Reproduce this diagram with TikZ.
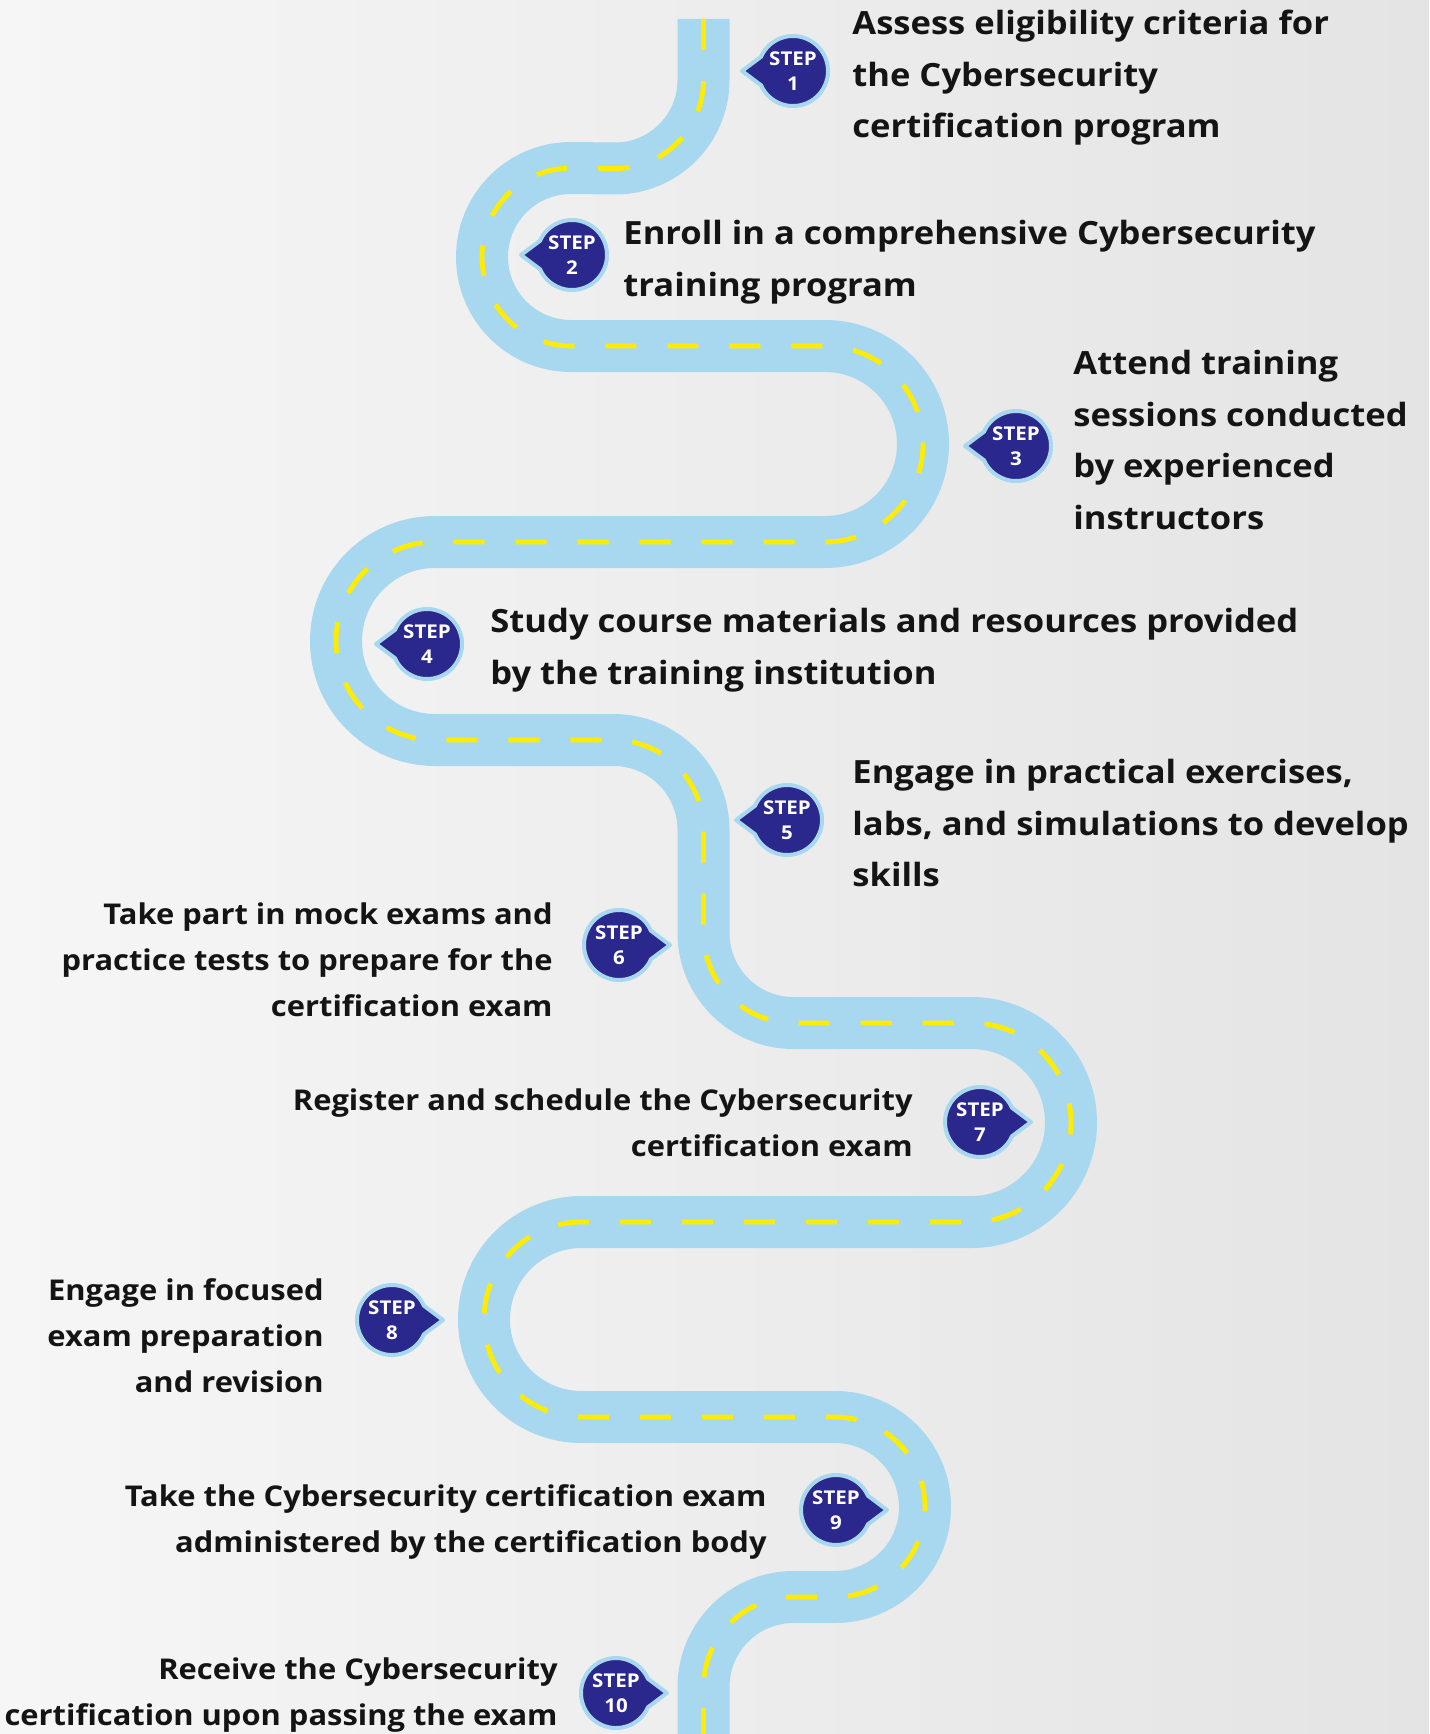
\documentclass[tikz,border=0pt]{standalone}
\usepackage{fontspec}
\setmainfont{Open Sans}[FakeStretch=1.08]
\usetikzlibrary{calc}
\usetikzlibrary{positioning}

\definecolor{roadblue}{RGB}{168,216,239}
\definecolor{lineyellow}{RGB}{255,236,0}
\definecolor{badgenavy}{RGB}{42,40,140}
\definecolor{bgleft}{RGB}{246,246,246}
\definecolor{bgright}{RGB}{228,228,228}

\tikzset{
  road/.style={draw=roadblue, line width=26pt},
  midline/.style={draw=lineyellow, line width=2.4pt, dash pattern=on 15.5pt off 15.5pt},
  badge/.style={fill=badgenavy, draw=roadblue, line width=2pt, line join=round},
  steplabel/.style={text=white, font=\bfseries\fontsize{9.5}{12.5}\selectfont, align=center, inner sep=0pt},
  bigtext/.style={font=\bfseries\fontsize{16}{25.7}\selectfont, text=black!92, inner sep=0pt, align=left, anchor=west},
  smalltext/.style={font=\bfseries\fontsize{14.3}{23}\selectfont, text=black!92, inner sep=0pt, align=right, anchor=east}
}

\begin{document}
\begin{tikzpicture}[x=0.5pt, y=-0.5pt]

% Background
\shade[left color=bgleft, right color=bgright] (0,0) rectangle (1429,1734);
\useasboundingbox (0,0) rectangle (1429,1734);

% Road with dashed middle line
\draw[road, postaction={midline}] (703.5,19) -- (703.5,80)
  arc[start angle=0, end angle=90, radius=88.5] -- (571,168)
  arc[start angle=270, end angle=90, radius=89] -- (825,346)
  arc[start angle=-90, end angle=90, radius=98] -- (435,542)
  arc[start angle=270, end angle=90, radius=99] -- (613.5,740)
  arc[start angle=-90, end angle=0, radius=90] -- (703.5,933)
  arc[start angle=180, end angle=90, radius=90] -- (971.5,1023)
  arc[start angle=-90, end angle=90, radius=99.5] -- (581.5,1222)
  arc[start angle=270, end angle=90, radius=97.5] -- (835,1417)
  arc[start angle=-90, end angle=90, radius=90] -- (793.5,1597)
  arc[start angle=270, end angle=180, radius=90] -- (703.5,1734);

% Step badges: number/x/y/pointer direction
\foreach \n/\x/\y/\d in {1/793/71/180, 2/572/255/180, 3/1016/446/180, 4/427/644/180, 5/787/820/180,
                         6/619/945/0, 7/980/1122/0, 8/392/1320/0, 9/836/1510/0, 10/616/1693/0}
{
    \draw[badge] ($(\x,\y)+(\d:51)$) -- ($(\x,\y)+({\d+24}:35)$)
        arc[start angle=\d+24, end angle=\d+336, radius=35] -- cycle;
    \node[steplabel] (step\n) at (\x,\y) {STEP\\\n};
}

% Step texts
\node[bigtext] (text1) at (852,78) {Assess eligibility criteria for\\the Cybersecurity\\certification program};
\node[bigtext] (text2) at (623,262) {Enroll in a comprehensive Cybersecurity\\training program};
\node[bigtext] (text3) at (1073,440) {Attend training\\sessions conducted\\by experienced\\instructors};
\node[bigtext] (text4) at (490,650) {Study course materials and resources provided\\by the training institution};
\node[bigtext] (text5) at (852,823) {Engage in practical exercises,\\labs, and simulations to develop\\skills};
\node[smalltext] (text6) at (553,960) {Take part in mock exams and\\practice tests to prepare for the\\certification exam};
\node[smalltext] (text7) at (913,1123) {Register and schedule the Cybersecurity\\certification exam};
\node[smalltext] (text8) at (324,1336) {Engage in focused\\exam preparation\\and revision};
\node[smalltext] (text9) at (767,1522) {Take the Cybersecurity certification exam\\administered by the certification body};
\node[smalltext] (text10) at (558,1695) {Receive the Cybersecurity\\certification upon passing the exam};

\end{tikzpicture}
\end{document}
